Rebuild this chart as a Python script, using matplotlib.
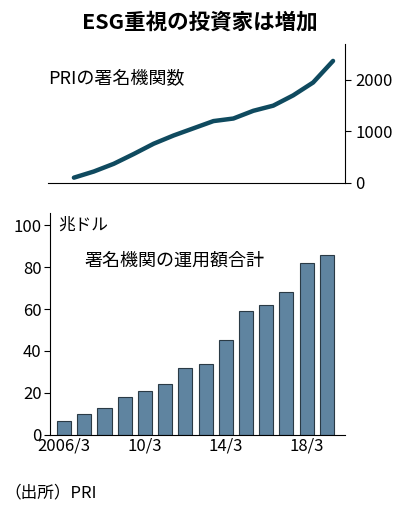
import matplotlib.pyplot as plt
import numpy as np

plt.rcParams['font.family'] = ['Noto Sans CJK JP', 'DejaVu Sans']

years = list(range(2006, 2020))
signatories = [100, 220, 370, 560, 760, 920, 1060, 1200, 1250, 1400, 1500, 1700, 1950, 2370]
aum = [6.5, 10, 13, 18, 21, 24, 32, 34, 45, 59, 62, 68, 82, 86]
tick_years = [2006, 2010, 2014, 2018]
tick_labels = ['2006/3', '10/3', '14/3', '18/3']

fig = plt.figure(figsize=(4, 5.05), dpi=100)
fig.text(0.5, 0.978, 'ESG重視の投資家は増加', ha='center', va='top', fontsize=15.5, fontweight='bold')

ax1 = fig.add_axes([0.12, 0.638, 0.7425, 0.275])
ax1.plot(years, signatories, color='#0f4a5f', lw=3.2, solid_capstyle='round')
ax1.set_xlim(2004.7, 2019.6)
ax1.set_ylim(0, 2700)
ax1.yaxis.tick_right()
ax1.set_yticks([0, 1000, 2000])
ax1.tick_params(axis='y', labelsize=12, direction='out', length=4)
ax1.set_xticks([])
for s in ['top', 'left']:
    ax1.spines[s].set_visible(False)
ax1.text(0.0, 0.72, 'PRIの署名機関数', transform=ax1.transAxes, fontsize=13)

ax2 = fig.add_axes([0.125, 0.139, 0.7375, 0.44])
ax2.bar(years, aum, width=0.7, color='#5f84a0', edgecolor='#2a3a45', linewidth=0.8)
ax2.set_xlim(2005.3, 2019.9)
ax2.set_ylim(0, 106)
ax2.set_yticks(range(0, 101, 20))
ax2.set_xticks(tick_years)
ax2.set_xticklabels(tick_labels)
ax2.tick_params(labelsize=12, length=0, pad=2)
ax2.tick_params(axis='y', length=4)
for s in ['top', 'right']:
    ax2.spines[s].set_visible(False)
ax2.text(2005.7, 100, '兆ドル', fontsize=12, va='center')
ax2.text(2007.0, 83, '署名機関の運用額合計', fontsize=13, va='center')

fig.text(0.01, 0.015, '（出所）PRI', fontsize=12)
fig.savefig('out.png')
